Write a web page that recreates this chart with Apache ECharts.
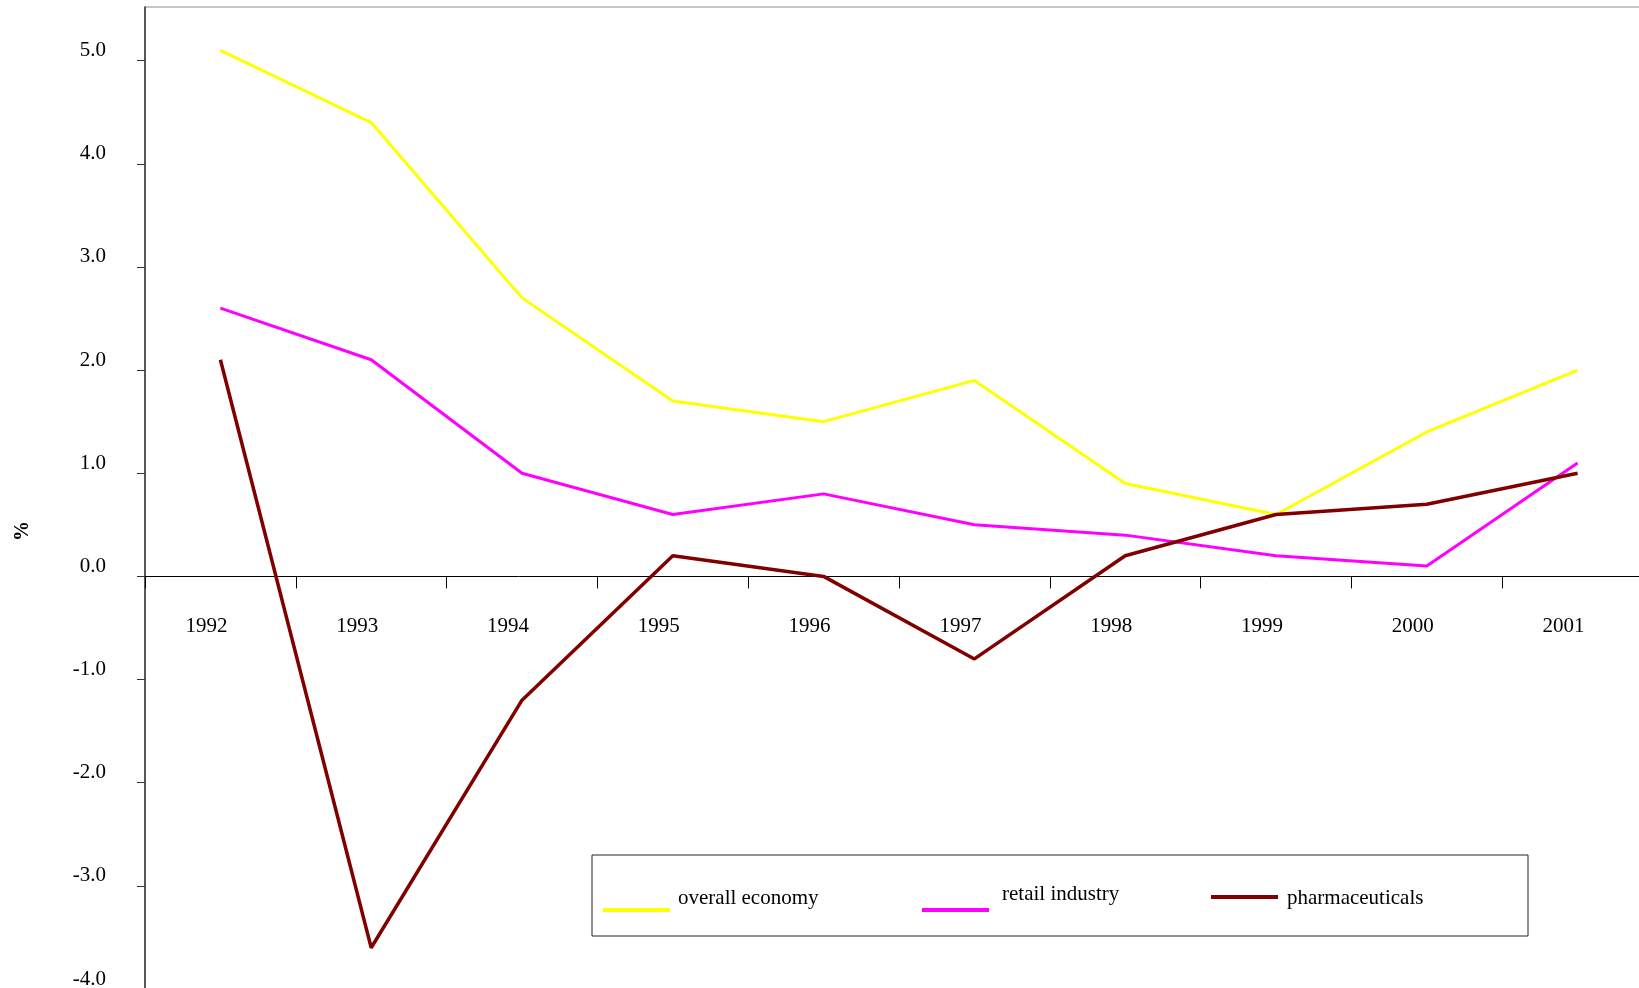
<!DOCTYPE html>
<html>
<head>
<meta charset="utf-8">
<script src="https://cdn.jsdelivr.net/npm/echarts@6/dist/echarts.min.js"></script>
<style>
  html, body { margin: 0; padding: 0; background: #fff; }
  #chart { width: 1639px; height: 988px; }
</style>
</head>
<body>
<div id="chart"></div>
<script>
// Annual change, % (1992–2001)
const years = ['1992', '1993', '1994', '1995', '1996', '1997', '1998', '1999', '2000', '2001'];
const overallEconomy = [5.1, 4.4, 2.7, 1.7, 1.5, 1.9, 0.9, 0.6, 1.4, 2.0];
const retailIndustry = [2.6, 2.1, 1.0, 0.6, 0.8, 0.5, 0.4, 0.2, 0.1, 1.1];
const pharmaceuticals = [2.1, -3.6, -1.2, 0.2, 0.0, -0.8, 0.2, 0.6, 0.7, 1.0];
const yTicks = [-4, -3, -2, -1, 0, 1, 2, 3, 4, 5];

const FONT = '"Liberation Serif", "Times New Roman", serif';
const Y_MIN = -4, Y_MAX = 5.52;
const GRID = { left: 145, top: 7, width: 1508, height: 982 };

const chart = echarts.init(document.getElementById('chart'), null, { renderer: 'canvas' });

// Legend key: a short bar placed inside a taller box so the bar can sit
// below (or level with) the middle of its label.
function legendAt(name, left, top, boxW, lineY) {
  const icon = 'path://M0,0M' + boxW + ',36M0,' + (lineY - 2) + 'H67V' + (lineY + 2) + 'H0Z';
  return {
    data: [{ name: name, icon: icon }],
    left: left,
    top: top,
    padding: 0,
    itemWidth: boxW,
    itemHeight: 36,
    selectedMode: false,
    textStyle: { fontFamily: FONT, fontSize: 21, color: '#000' }
  };
}

// the category axis crosses the value axis at zero
const zeroOffset = -GRID.height * (0 - Y_MIN) / (Y_MAX - Y_MIN);

chart.setOption({
  animation: false,
  backgroundColor: '#fff',
  grid: Object.assign({
    outerBoundsMode: 'none',
    containLabel: false,
    show: true, borderColor: '#8c8c8c', borderWidth: 1, backgroundColor: 'transparent'
  }, GRID),
  xAxis: {
    type: 'category',
    data: years,
    boundaryGap: true,
    position: 'bottom',
    offset: zeroOffset,
    axisLine: { onZero: false, lineStyle: { color: '#000', width: 1 } },
    axisTick: { show: true, length: 12, lineStyle: { color: '#000', width: 1 } },
    axisLabel: {
      interval: 0, margin: 40, fontFamily: FONT, fontSize: 21, color: '#000',
      padding: [0, 28, 0, 0]
    },
    splitLine: { show: false }
  },
  yAxis: {
    type: 'value',
    min: Y_MIN,
    max: Y_MAX,
    interval: 1,
    splitLine: { show: false },
    axisLine: { show: true, lineStyle: { color: '#333', width: 1.5 } },
    axisTick: { show: true, length: 8, customValues: yTicks, lineStyle: { color: '#333', width: 1 } },
    axisLabel: {
      customValues: yTicks,
      margin: 39, fontFamily: FONT, fontSize: 21, color: '#000',
      verticalAlign: 'bottom', lineHeight: 20,
      formatter: v => v.toFixed(1)
    }
  },
  legend: [
    legendAt('overall economy', 603, 880, 70, 30),
    legendAt('retail industry', 922, 876, 75, 34),
    legendAt('pharmaceuticals', 1211, 880, 71, 17)
  ],
  graphic: [
    {
      type: 'rect',
      shape: { x: 592, y: 855, width: 936, height: 81 },
      style: { fill: 'none', stroke: '#222', lineWidth: 1 },
      z: 5
    },
    {
      type: 'text',
      x: 23, y: 531,
      rotation: Math.PI / 2,
      style: {
        text: '%', font: 'bold 20px ' + FONT, fill: '#000',
        align: 'center', verticalAlign: 'middle'
      }
    }
  ],
  series: [
    {
      name: 'overall economy', type: 'line', data: overallEconomy,
      symbol: 'none', color: '#ffff00', lineStyle: { color: '#ffff00', width: 3 }
    },
    {
      name: 'retail industry', type: 'line', data: retailIndustry,
      symbol: 'none', color: '#ff00ff', lineStyle: { color: '#ff00ff', width: 3 }
    },
    {
      name: 'pharmaceuticals', type: 'line', data: pharmaceuticals,
      symbol: 'none', color: '#800000', lineStyle: { color: '#800000', width: 3.5 }
    }
  ]
});
</script>
</body>
</html>
